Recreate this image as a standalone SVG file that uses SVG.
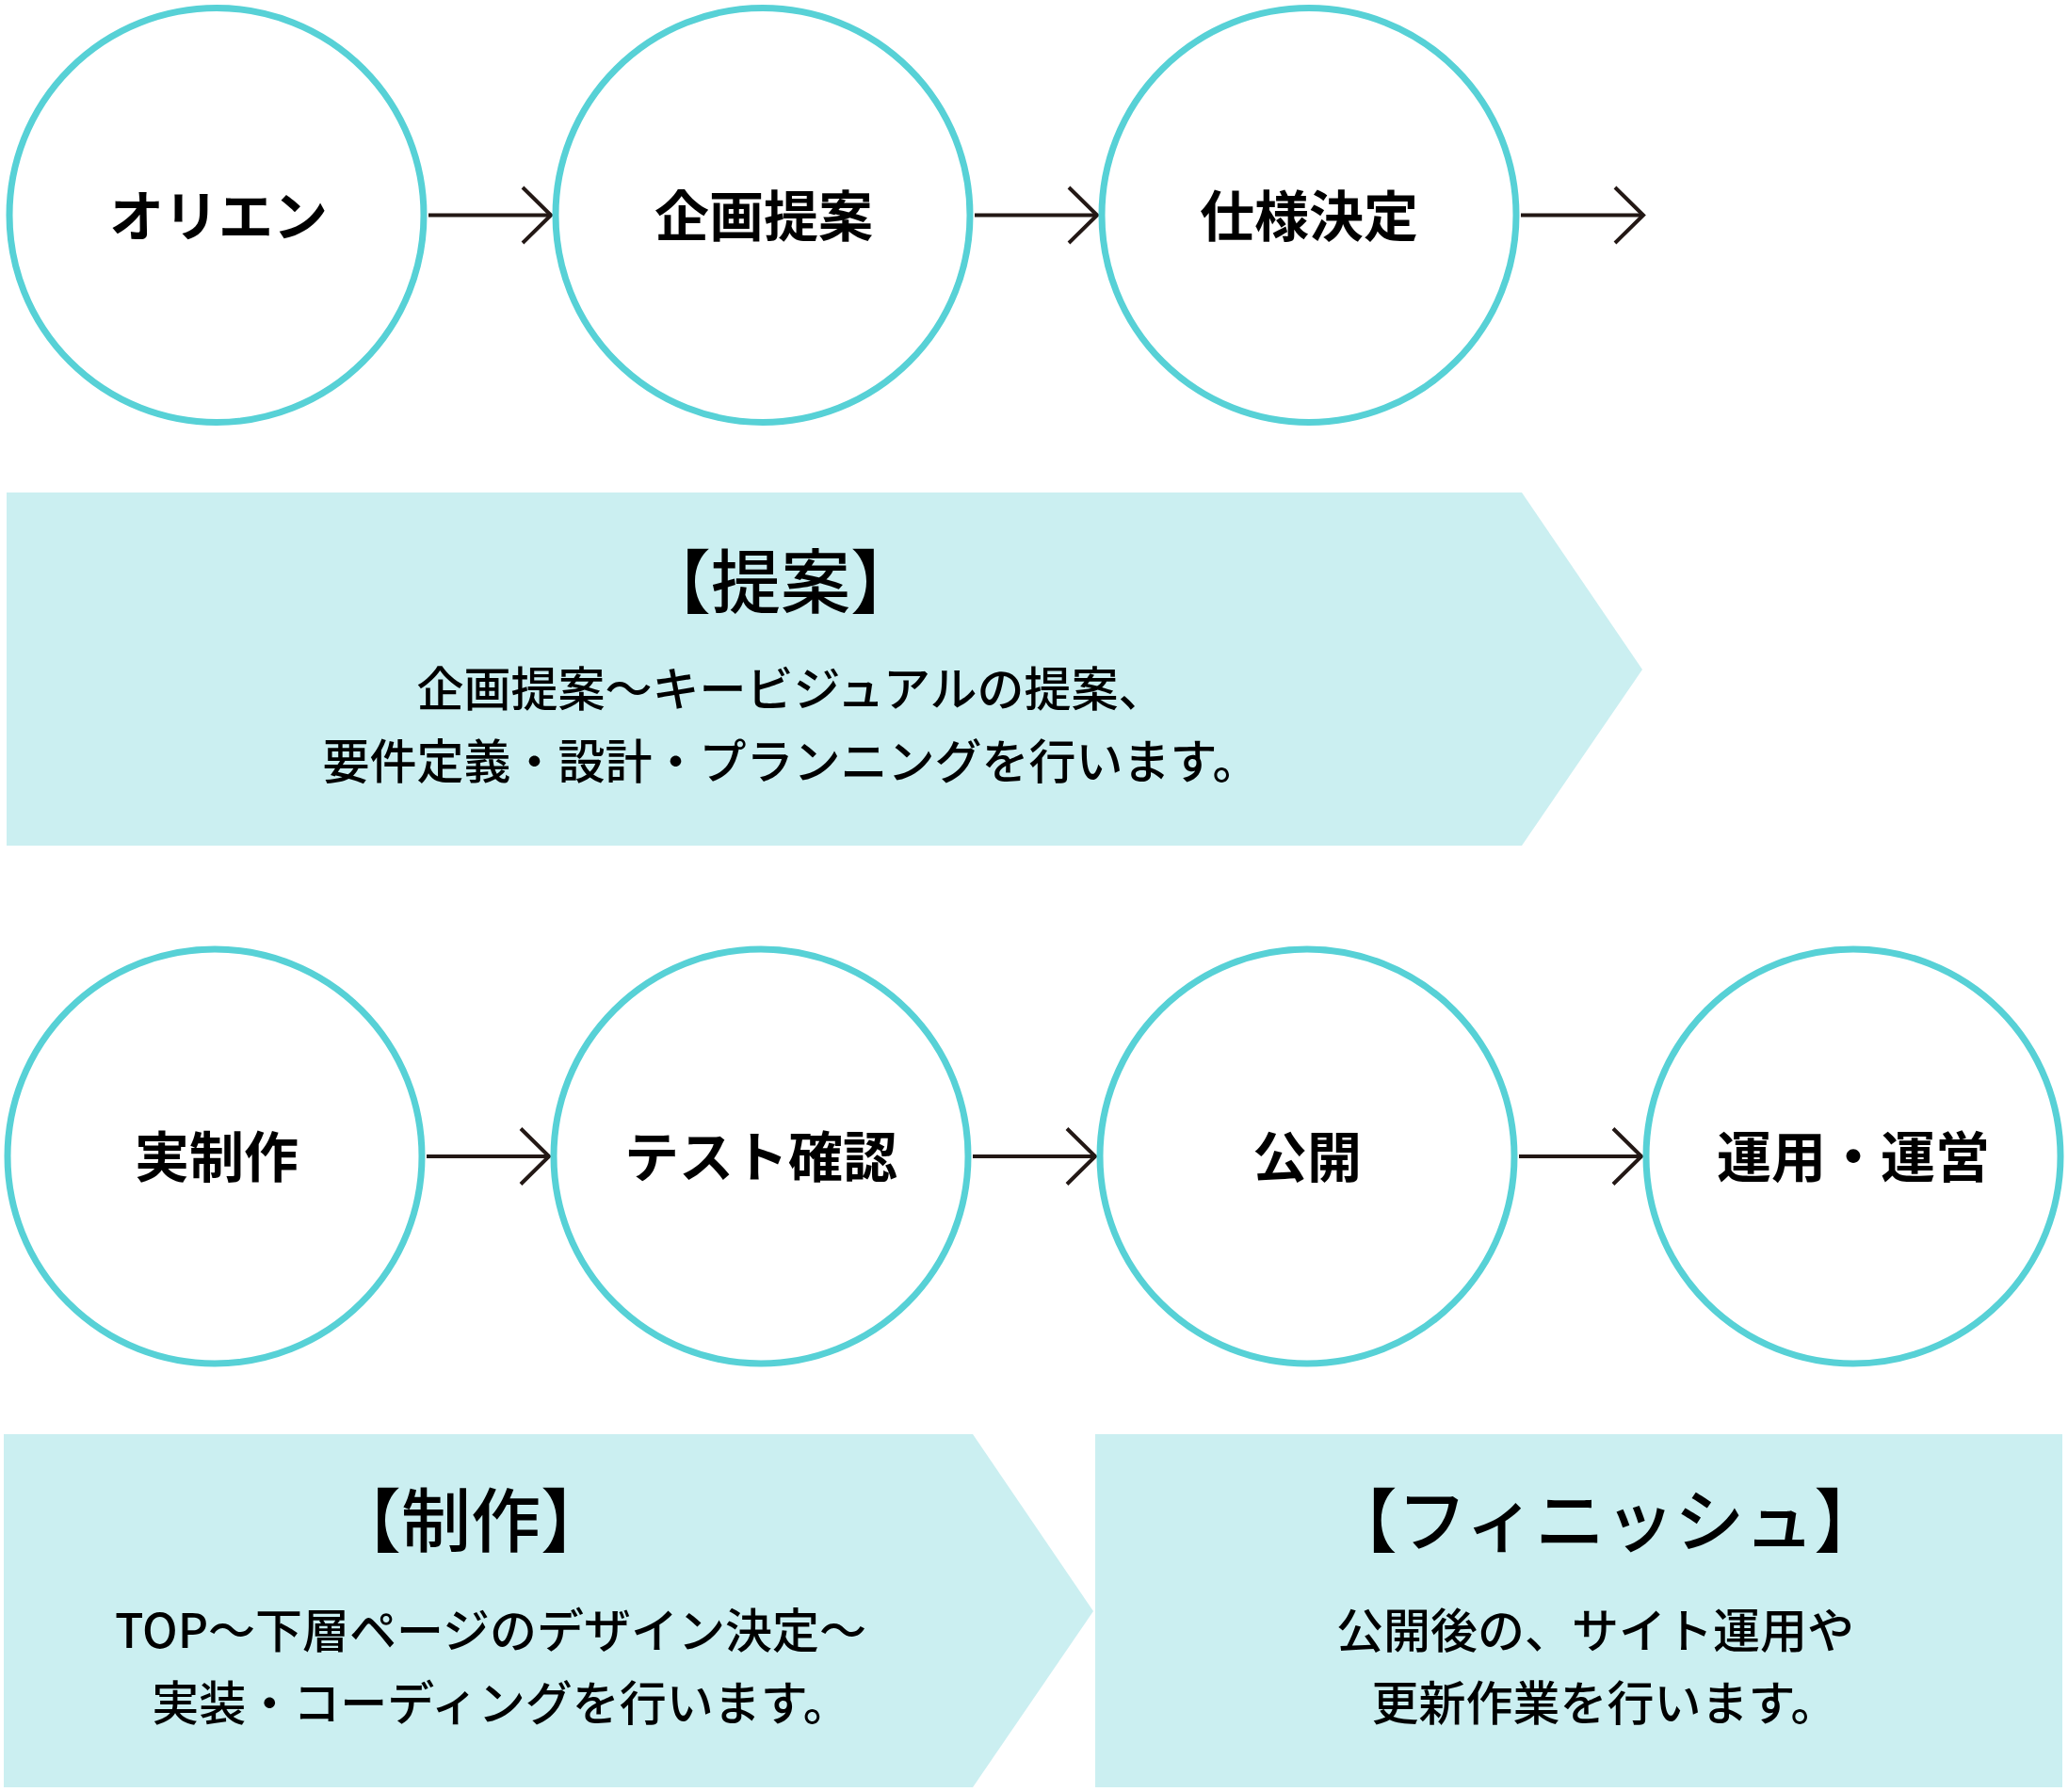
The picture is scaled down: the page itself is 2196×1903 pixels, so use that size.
<svg xmlns="http://www.w3.org/2000/svg" width="2196" height="1903" viewBox="0 0 2196 1903">
  <style>
    .node circle { fill: #ffffff; stroke: #57d1d6; stroke-width: 7; }
    .label { font-family: "Noto Sans CJK JP", "Noto Sans", sans-serif; font-weight: 700; font-size: 58px; fill: #000000; text-anchor: middle; }
    .panel { fill: #cbeff1; }
    .title { font-family: "Noto Sans CJK JP", "Noto Sans", sans-serif; font-weight: 500; font-size: 74px; fill: #000000; text-anchor: middle; }
    .body { font-family: "Noto Sans CJK JP", "Noto Sans", sans-serif; font-weight: 500; font-size: 50px; fill: #000000; text-anchor: middle; }
    .conn line, .conn polyline { fill: none; stroke: #231815; stroke-width: 4; }
  </style>
  <rect width="2196" height="1903" fill="#ffffff"/>

  <!-- panels -->
  <g id="panel-proposal">
    <polygon class="panel" points="7,523 1616,523 1744,711 1616,898 7,898"/>
    <text class="title" x="829" y="645">【提案】</text>
    <text class="body" x="840" y="750">企画提案〜キービジュアルの提案、</text>
    <text class="body" x="840" y="827">要件定義・設計・プランニングを行います。</text>
  </g>
  <g id="panel-production">
    <polygon class="panel" points="4,1523 1033,1523 1161,1711 1033,1898 4,1898"/>
    <text class="title" x="500" y="1642">【制作】</text>
    <text class="body" x="521" y="1750">TOP〜下層ページのデザイン決定〜</text>
    <text class="body" x="532" y="1827">実装・コーディングを行います。</text>
  </g>
  <g id="panel-finish">
    <polygon class="panel" points="1163,1523 2190,1523 2190,1898 1163,1898"/>
    <text class="title" x="1705" y="1642">【フィニッシュ】</text>
    <text class="body" x="1694" y="1750">公開後の、サイト運用や</text>
    <text class="body" x="1704" y="1827">更新作業を行います。</text>
  </g>

  <!-- connectors -->
  <g id="connectors" class="conn">
    <line x1="455" y1="228.5" x2="585" y2="228.5"/>
    <polyline points="555,199 585,228.5 555,258"/>
    <line x1="1035" y1="228.5" x2="1165" y2="228.5"/>
    <polyline points="1135,199 1165,228.5 1135,258"/>
    <line x1="1615" y1="228.5" x2="1745" y2="228.5"/>
    <polyline points="1715,199 1745,228.5 1715,258"/>

    <line x1="453" y1="1228" x2="583" y2="1228"/>
    <polyline points="553,1198.5 583,1228 553,1257.5"/>
    <line x1="1033" y1="1228" x2="1163" y2="1228"/>
    <polyline points="1133,1198.5 1163,1228 1133,1257.5"/>
    <line x1="1613" y1="1228" x2="1743" y2="1228"/>
    <polyline points="1713,1198.5 1743,1228 1713,1257.5"/>
  </g>

  <!-- row 1 nodes -->
  <g id="node-orien" class="node">
    <circle cx="230" cy="228.5" r="220"/>
    <text class="label" x="232" y="250.5">オリエン</text>
  </g>
  <g id="node-kikaku" class="node">
    <circle cx="810" cy="228.5" r="220"/>
    <text class="label" x="811" y="250.5">企画提案</text>
  </g>
  <g id="node-shiyou" class="node">
    <circle cx="1390" cy="228.5" r="220"/>
    <text class="label" x="1390" y="250.5">仕様決定</text>
  </g>

  <!-- row 2 nodes -->
  <g id="node-seisaku" class="node">
    <circle cx="228" cy="1228" r="220"/>
    <text class="label" x="230" y="1250">実制作</text>
  </g>
  <g id="node-test" class="node">
    <circle cx="808" cy="1228" r="220"/>
    <text class="label" x="808" y="1250">テスト確認</text>
  </g>
  <g id="node-koukai" class="node">
    <circle cx="1388" cy="1228" r="220"/>
    <text class="label" x="1388" y="1250">公開</text>
  </g>
  <g id="node-unyou" class="node">
    <circle cx="1968" cy="1228" r="220"/>
    <text class="label" x="1968" y="1250">運用・運営</text>
  </g>
</svg>
